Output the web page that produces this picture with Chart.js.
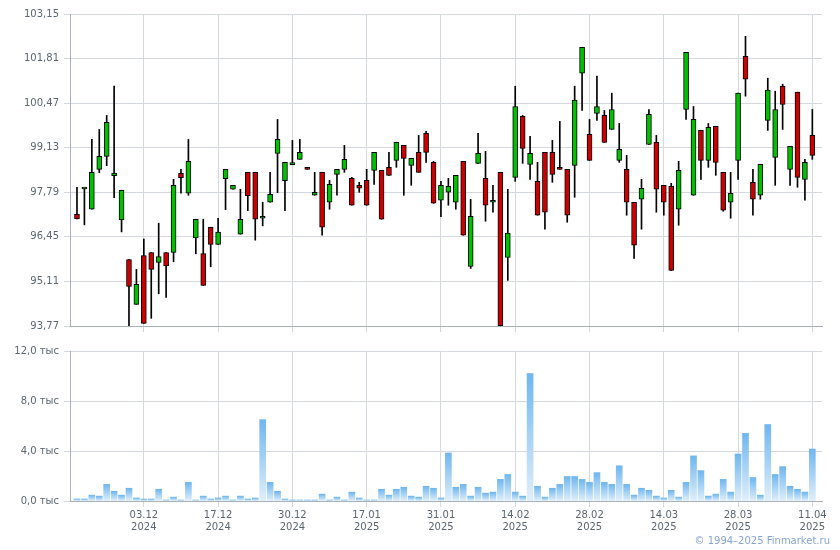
<!DOCTYPE html>
<html>
<head>
<meta charset="utf-8">
<script src="https://cdn.jsdelivr.net/npm/chart.js@4.4.1/dist/chart.umd.min.js"></script>
<style>
  body { margin: 0; background: #fff; width: 840px; height: 550px; position: relative; overflow: hidden; }
  canvas { position: absolute; left: 0; }
  #copy { position: absolute; right: 10px; top: 535px; font: 10px "DejaVu Sans"; color: #86a3d6; white-space: nowrap; }
</style>
</head>
<body>
<canvas id="priceChart" width="840" height="340" style="top:0"></canvas>
<canvas id="volumeChart" width="840" height="210" style="top:340px"></canvas>
<div id="copy">© 1994–2025 Finmarket.ru</div>
<script>
const dates = [
  '20.11.2024','21.11.2024','22.11.2024','25.11.2024','26.11.2024','27.11.2024','28.11.2024','29.11.2024','02.12.2024','03.12.2024',
  '04.12.2024','05.12.2024','06.12.2024','09.12.2024','10.12.2024','11.12.2024','12.12.2024','13.12.2024','16.12.2024','17.12.2024',
  '18.12.2024','19.12.2024','20.12.2024','23.12.2024','24.12.2024','25.12.2024','26.12.2024','27.12.2024','28.12.2024','30.12.2024',
  '03.01.2025','06.01.2025','08.01.2025','09.01.2025','10.01.2025','13.01.2025','14.01.2025','15.01.2025','16.01.2025','17.01.2025',
  '20.01.2025','21.01.2025','22.01.2025','23.01.2025','24.01.2025','27.01.2025','28.01.2025','29.01.2025','30.01.2025','31.01.2025',
  '03.02.2025','04.02.2025','05.02.2025','06.02.2025','07.02.2025','10.02.2025','11.02.2025','12.02.2025','13.02.2025','14.02.2025',
  '17.02.2025','18.02.2025','19.02.2025','20.02.2025','21.02.2025','24.02.2025','25.02.2025','26.02.2025','27.02.2025','28.02.2025',
  '03.03.2025','04.03.2025','05.03.2025','06.03.2025','07.03.2025','10.03.2025','11.03.2025','12.03.2025','13.03.2025','14.03.2025',
  '17.03.2025','18.03.2025','19.03.2025','20.03.2025','21.03.2025','24.03.2025','25.03.2025','26.03.2025','27.03.2025','28.03.2025',
  '31.03.2025','01.04.2025','02.04.2025','03.04.2025','04.04.2025','07.04.2025','08.04.2025','09.04.2025','10.04.2025','11.04.2025'
];

const open = [
  97.13,97.89,97.28,98.48,98.87,98.29,96.96,95.77,94.42,95.89,
  95.98,95.68,95.98,95.98,98.36,97.76,96.42,95.95,96.74,96.22,
  98.20,97.88,96.53,98.39,98.39,97.01,97.49,98.96,98.14,98.62,
  98.78,98.54,97.70,98.39,97.49,98.33,98.48,98.21,98.00,98.15,
  98.45,98.45,98.54,98.75,99.20,98.60,98.99,99.56,98.69,97.55,
  97.79,97.49,98.72,95.56,98.66,98.21,97.49,98.39,95.83,98.24,
  100.07,98.63,98.12,98.99,98.99,98.54,98.48,98.60,101.37,99.53,
  100.16,100.10,99.68,98.75,98.48,97.49,97.58,99.23,99.29,98.00,
  97.97,97.28,100.28,97.70,99.65,98.75,99.77,98.39,97.49,98.75,
  101.88,98.09,97.70,99.95,98.84,100.98,98.48,100.80,98.18,99.50
];
const high = [
  97.94,97.90,99.38,99.68,100.10,100.98,97.85,95.77,95.47,96.38,
  95.98,96.86,95.98,98.18,98.48,99.38,96.98,96.98,96.74,97.01,
  98.48,98.00,97.88,98.39,98.39,97.49,98.39,99.98,98.69,99.35,
  99.38,98.54,98.39,98.39,98.15,98.48,99.20,98.24,98.09,98.48,
  98.99,98.45,98.99,99.29,99.20,98.81,99.50,99.62,98.72,98.12,
  98.21,98.30,98.72,97.58,99.56,99.02,98.00,98.39,97.88,100.98,
  100.10,99.47,98.69,98.99,99.35,99.92,98.48,100.98,102.15,99.98,
  101.28,100.25,100.77,99.86,98.90,97.49,98.18,100.28,99.50,98.00,
  98.06,98.72,102.00,100.37,99.65,99.86,99.77,98.39,98.39,100.77,
  102.48,98.48,98.63,101.22,100.83,101.04,99.17,100.80,98.78,100.28
];
const low = [
  96.99,96.81,97.28,98.38,98.59,97.63,96.60,93.78,94.42,93.85,
  94.00,94.74,94.63,95.70,97.76,97.70,95.94,94.99,95.55,96.22,
  97.27,97.88,96.53,97.24,96.35,96.78,97.49,97.78,97.24,98.62,
  98.78,98.48,97.70,96.50,97.28,97.70,98.39,97.40,97.79,97.40,
  98.03,96.98,98.30,98.54,97.70,98.00,98.39,98.69,97.46,97.06,
  97.40,97.28,96.50,95.50,98.66,96.92,97.19,93.77,95.14,98.12,
  98.66,98.18,97.10,96.68,98.09,98.48,96.89,97.64,100.25,98.75,
  99.95,99.29,99.68,98.69,97.10,95.80,96.68,99.23,97.19,97.10,
  95.44,96.80,99.98,97.70,98.18,98.54,98.30,97.22,97.01,98.18,
  100.68,97.10,97.58,99.65,98.00,99.68,98.00,97.94,97.55,98.78
];
const close = [
  96.99,97.89,98.39,98.87,99.89,98.37,97.85,94.96,95.02,93.85,
  95.47,95.86,95.58,98.00,98.23,98.72,96.98,94.99,96.22,96.59,
  98.48,98.00,96.98,97.69,96.98,97.01,97.73,99.38,98.69,98.62,
  98.99,98.48,97.79,96.74,98.03,98.48,98.78,97.40,97.91,97.40,
  98.99,96.98,98.30,99.29,98.81,98.81,98.39,98.99,97.46,98.00,
  97.97,98.30,96.50,97.07,98.96,97.40,97.49,93.78,96.56,100.37,
  99.11,98.96,97.10,97.19,98.33,98.48,97.10,100.56,102.15,98.75,
  100.37,99.29,100.28,99.08,97.49,96.20,97.91,100.13,97.88,97.49,
  95.44,98.45,102.00,99.98,98.75,99.74,98.69,97.25,97.76,100.77,
  101.19,97.58,98.63,100.86,100.28,100.43,99.17,98.24,98.69,98.90
];
const volume = [
  160,160,470,390,1330,780,470,1020,240,160,
  160,940,80,310,80,1490,80,390,160,240,
  390,80,390,160,240,6510,1490,780,160,80,
  80,80,80,550,80,310,80,710,240,80,
  80,940,470,940,1100,390,310,1180,1020,240,
  3840,1100,1330,390,1100,630,710,1730,2120,710,
  390,10200,1180,310,1020,1330,1960,1960,1730,1490,
  2270,1490,1330,2820,1330,470,1020,860,390,240,
  860,310,1490,3610,2430,390,550,1730,710,3760,
  5410,1880,470,6120,2120,2750,1180,940,710,4160
];

const priceTicks = [93.77, 95.11, 96.45, 97.79, 99.13, 100.47, 101.81, 103.15];
const volumeTicks = [0, 4000, 8000, 12000];
const dateTickLabels = ['03.12.2024','17.12.2024','30.12.2024','17.01.2025','31.01.2025',
                        '14.02.2025','28.02.2025','14.03.2025','28.03.2025','11.04.2025'];

const tickIdx = dateTickLabels.map(d => dates.indexOf(d));
const labelFont = { family: 'DejaVu Sans', size: 10 };
const labelColor = '#5c6670';
const gridColor = '#d5d9dd';
const axisColor = '#a9b0b8';
const xMin = -0.94, xMax = 100.3;

const xAxis = (withLabels, height) => ({
  type: 'linear',
  min: xMin,
  max: xMax,
  offset: false,
  afterBuildTicks: s => { s.ticks = tickIdx.map(v => ({ value: v })); },
  afterFit: s => { s.height = height; },
  ticks: {
    autoSkip: false,
    maxRotation: 0,
    padding: 2,
    font: labelFont,
    color: labelColor,
    callback: v => {
      if (!withLabels) return '';
      const d = dates[v];
      return [d.slice(0, 5), d.slice(6)];
    }
  },
  grid: { color: gridColor, tickLength: 6, offset: false },
  border: { color: axisColor }
});

new Chart(document.getElementById('priceChart'), {
  type: 'bar',
  data: {
    datasets: [
      {
        label: 'wick',
        data: dates.map((d, i) => ({ x: i, y: [low[i], high[i]] })),
        backgroundColor: '#000',
        barThickness: 1,
        grouped: false,
        order: 2
      },
      {
        label: 'body',
        data: dates.map((d, i) => ({ x: i, y: [open[i], close[i]] })),
        backgroundColor: dates.map((d, i) => close[i] >= open[i] ? '#00c000' : '#cc0000'),
        borderColor: '#000',
        borderWidth: 1,
        borderSkipped: false,
        barThickness: 5,
        minBarLength: 2,
        grouped: false,
        order: 1
      }
    ]
  },
  options: {
    responsive: false,
    animation: false,
    layout: { padding: { top: 14, right: 18, left: 0, bottom: 0 } },
    plugins: { legend: { display: false }, tooltip: { enabled: false } },
    scales: {
      x: xAxis(false, 14),
      y: {
        min: 93.77,
        max: 103.15,
        afterBuildTicks: s => { s.ticks = priceTicks.map(v => ({ value: v })); },
        afterFit: s => { s.width = 70; },
        ticks: {
          padding: 5,
          font: labelFont,
          color: labelColor,
          callback: v => v.toFixed(2).replace('.', ',')
        },
        grid: { color: gridColor, tickLength: 6 },
        border: { color: axisColor }
      }
    }
  }
});

new Chart(document.getElementById('volumeChart'), {
  type: 'bar',
  data: {
    datasets: [{
      label: 'volume',
      data: dates.map((d, i) => ({ x: i, y: volume[i] })),
      backgroundColor: ctx => {
        const chart = ctx.chart;
        const area = chart.chartArea;
        if (!area || ctx.dataIndex === undefined) return '#9fcdf3';
        const top = chart.scales.y.getPixelForValue(volume[ctx.dataIndex]);
        const g = chart.ctx.createLinearGradient(0, top, 0, area.bottom);
        g.addColorStop(0, '#6fb6ef');
        g.addColorStop(1, '#e0effb');
        return g;
      },
      barThickness: 6,
      grouped: false
    }]
  },
  options: {
    responsive: false,
    animation: false,
    layout: { padding: { top: 9, right: 18, left: 0, bottom: 0 } },
    plugins: { legend: { display: false }, tooltip: { enabled: false } },
    scales: {
      x: xAxis(true, 49),
      y: {
        min: 0,
        max: 12000,
        afterBuildTicks: s => { s.ticks = volumeTicks.map(v => ({ value: v })); },
        afterFit: s => { s.width = 70; },
        ticks: {
          padding: 5,
          font: labelFont,
          color: labelColor,
          callback: v => (v / 1000).toFixed(1).replace('.', ',') + ' тыс'
        },
        grid: { color: gridColor, tickLength: 6 },
        border: { color: axisColor }
      }
    }
  }
});
</script>
</body>
</html>
